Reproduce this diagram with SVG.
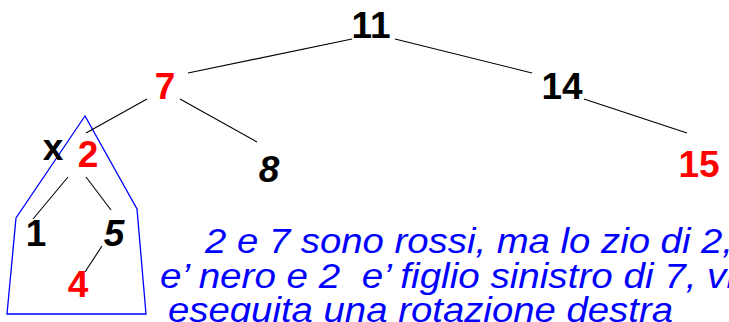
<svg xmlns="http://www.w3.org/2000/svg" width="729" height="322" viewBox="0 0 729 322">
<style>
.n{font-family:"Liberation Sans",Arial,sans-serif;font-weight:bold;font-size:37px;text-anchor:middle}
.k{fill:#000}
.r{fill:#ff0000}
.i{font-style:italic}
.e{stroke:#000;stroke-width:1.1;fill:none}
.note{font-family:"Liberation Sans",Arial,sans-serif;font-style:italic;font-size:35px;fill:#0000ff;white-space:pre}
</style>
<rect width="729" height="322" fill="#fff"/>
<polygon id="subtree" points="85,116 16,218 7,314 146,314 137,209" fill="none" stroke="#0000ff" stroke-width="1.3"/>
<g id="connectors">
<line class="e" x1="352" y1="39" x2="188" y2="73"/>
<line class="e" x1="395" y1="39" x2="532" y2="73"/>
<line class="e" x1="584" y1="99" x2="687" y2="133"/>
<line class="e" x1="147" y1="99" x2="86" y2="133"/>
<line class="e" x1="180" y1="99" x2="257" y2="142"/>
<line class="e" x1="68" y1="177" x2="33" y2="219"/>
<line class="e" x1="86" y1="177" x2="111" y2="210"/>
<line class="e" x1="102" y1="246" x2="85" y2="272"/>
</g>
<g id="n11"><text class="n k" x="371" y="38">11</text></g>
<g id="n7"><text class="n r" x="165" y="99">7</text></g>
<g id="n14"><text class="n k" x="562" y="99">14</text></g>
<g id="n15"><text class="n r" x="699" y="177">15</text></g>
<g id="nx"><text class="n k" x="53" y="160">x</text></g>
<g id="n2"><text class="n r" x="88" y="167">2</text></g>
<g id="n8"><text class="n k i" x="269" y="182">8</text></g>
<g id="n1"><text class="n k" x="36" y="246">1</text></g>
<g id="n5"><text class="n k i" x="114" y="246">5</text></g>
<g id="n4"><text class="n r" x="78" y="297">4</text></g>
<g id="note">
<text class="note" x="205" y="253" textLength="528" lengthAdjust="spacingAndGlyphs">2 e 7 sono rossi, ma lo zio di 2,</text>
<text class="note" x="160" y="288" textLength="575" lengthAdjust="spacingAndGlyphs">e’ nero e 2  e’ figlio sinistro di 7, vi</text>
<text class="note" x="168" y="322" textLength="505" lengthAdjust="spacingAndGlyphs">eseguita una rotazione destra</text>
</g>
</svg>
